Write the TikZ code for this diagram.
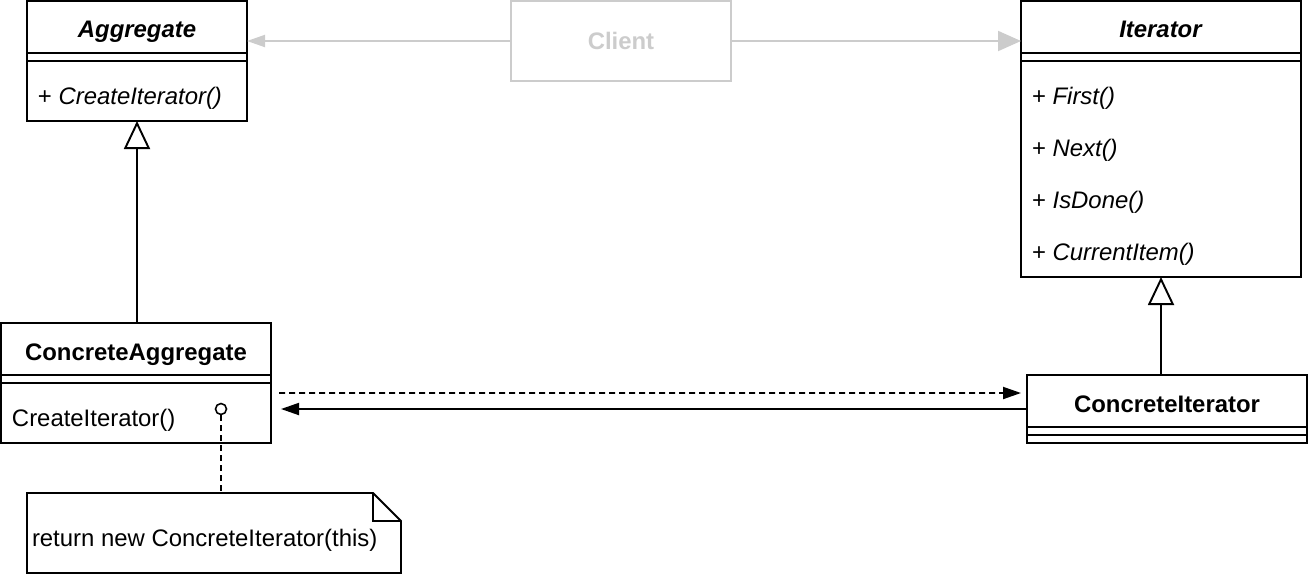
\documentclass[tikz,border=0pt]{standalone}
\usepackage{fontspec}
\setmainfont{Liberation Sans}
\usepackage{xcolor}
\usepackage{tikz}
\definecolor{clientGrey}{HTML}{CCCCCC}
\usetikzlibrary{arrows.meta, positioning, calc}
\newcommand{\umlfont}{\fontsize{13.6}{16.3}\selectfont}
\tikzstyle{block} = [rectangle, draw, line width = 1.1pt, inner sep = 0pt, outer sep = 0pt, font = \umlfont]
\tikzstyle{blockClient} = [block, draw = clientGrey, text = clientGrey, font = \umlfont\bfseries]
\tikzstyle{header} = [rectangle, draw = none, inner sep = 0pt, outer sep = 0pt, font = \umlfont\bfseries]
\tikzstyle{method} = [rectangle, draw = none, inner sep = 0pt, outer sep = 0pt, font = \umlfont]
\tikzstyle{line} = [line width = 1.1pt, -{Triangle[length = 0.36cm, width = 0.24cm]}]
\tikzstyle{lineGrey} = [line width = 1.1pt, draw = clientGrey, -{Triangle[length = 0.36cm, width = 0.24cm]}]
\tikzstyle{inherit} = [line width = 1.1pt, -{Triangle[open, length = 0.56cm, width = 0.52cm]}]
\tikzstyle{dashline} = [line width = 1.1pt, dash pattern = on 0.12cm off 0.08cm]
\tikzstyle{noblock} = [rectangle, draw = none, inner sep = 0pt, outer sep = 0pt]

\begin{document}
\begin{tikzpicture}
        \useasboundingbox (0,0) rectangle (26.16,-11.48);
        % class boxes
        \node(Agg) [block, minimum width = 4.4cm, minimum height = 2.4cm, anchor = north west] at (0.54,-0.02) {};
        \node(Cl) [blockClient, minimum width = 4.4cm, minimum height = 1.6cm, right = 5.28cm of Agg.north east, anchor = north west] {Client};
        \node(It) [block, minimum width = 5.6cm, minimum height = 5.52cm, right = 5.8cm of Cl.north east, anchor = north west] {};
        \node(CAgg) [block, minimum width = 5.4cm, minimum height = 2.4cm, below = 4.04cm of Agg.south west, anchor = north west, xshift = -0.52cm] {};
        \node(CIt) [block, minimum width = 5.6cm, minimum height = 1.36cm, below = 1.96cm of It.south west, anchor = north west, xshift = 0.12cm] {};
        \node(note) [noblock, minimum width = 7.48cm, minimum height = 1.6cm, below = 1cm of CAgg.south west, anchor = north west, xshift = 0.52cm] {};
        % names
        \node(AggName) [header, below = 0.72cm of Agg.north, anchor = base] {\textit{Aggregate}};
        \node(ItName) [header, below = 0.72cm of It.north, anchor = base] {\textit{Iterator}};
        \node(CAggName) [header, below = 0.74cm of CAgg.north, anchor = base] {ConcreteAggregate};
        \node(CItName) [header, below = 0.75cm of CIt.north, anchor = base] {ConcreteIterator};
        \foreach \cls in {Agg, It, CAgg, CIt} {
            \draw[line width = 1.1pt] ($(\cls.north west)+(0,-1.04)$) -- ($(\cls.north east)+(0,-1.04)$);
            \draw[line width = 1.1pt] ($(\cls.north west)+(0,-1.2)$) -- ($(\cls.north east)+(0,-1.2)$);
        }
        % operations
        \node(AggOp) [method, below right = 2.07cm and 0.22cm of Agg.north west, anchor = base west] {+ \textit{CreateIterator()}};
        \node(ItFirst) [method, below right = 2.07cm and 0.22cm of It.north west, anchor = base west] {+ \textit{First()}};
        \node(ItNext) [method, below = 1.04cm of ItFirst.base west, anchor = base west] {+ \textit{Next()}};
        \node(ItDone) [method, below = 1.04cm of ItNext.base west, anchor = base west] {+ \textit{IsDone()}};
        \node(ItItem) [method, below = 1.04cm of ItDone.base west, anchor = base west] {+ \textit{CurrentItem()}};
        \node(CAggOp) [method, below right = 2.07cm and 0.22cm of CAgg.north west, anchor = base west] {CreateIterator()};
        % note
        \node(noteText) [method, below right = 1.06cm and 0.1cm of note.north west, anchor = base west] {return new ConcreteIterator(this)};
        \draw[line width = 1.1pt] (note.north west) -- ($(note.north east)+(-0.56,0)$) -- ($(note.north east)+(0,-0.56)$) |- (note.south west) -- cycle;
        \draw[line width = 1.1pt] ($(note.north east)+(-0.56,0)$) |- ($(note.north east)+(0,-0.56)$);
        \node(dot) [circle, draw, line width = 0.9pt, minimum size = 0.22cm, inner sep = 0pt, above right = 0.68cm and 4.4cm of CAgg.south west, anchor = center] {};
        \draw[dashline] (dot.south) -- (dot |- note.north);
        % connectors
        \coordinate (dashStart) at ($(CAgg.east)+(0.16,-0.2)$);
        \coordinate (dashEnd) at ($(CIt.west)+(-0.12,0.32)$);
        \coordinate (solidEnd) at ($(CAgg.east |- CIt.west)+(0.2,0)$);
        \draw[lineGrey] (Cl.west) -- (Cl.west -| Agg.east);
        \draw[lineGrey, -{Triangle[length = 0.46cm, width = 0.4cm]}] (Cl.east) -- (Cl.east -| It.west);
        \draw[inherit] (CAgg.north -| Agg.south) -- (Agg.south);
        \draw[inherit] (CIt.north -| It.south) -- (It.south);
        \draw[line, dashline] (dashStart) -- (dashEnd);
        \draw[line] (CIt.west) -- (solidEnd);
    \end{tikzpicture}
\end{document}
